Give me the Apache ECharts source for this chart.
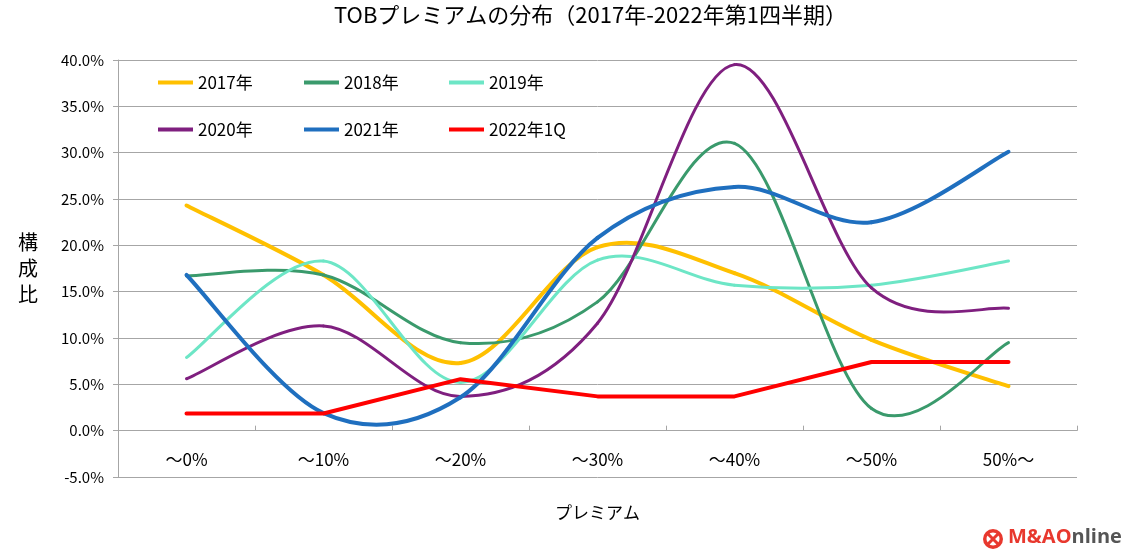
<!DOCTYPE html>
<html><head><meta charset="utf-8">
<script src="https://cdn.jsdelivr.net/npm/echarts@6/dist/echarts.min.js"></script>
<style>html,body{margin:0;padding:0;background:#fff}#c{width:1140px;height:554px}</style>
</head><body><div id="c"></div>
<script>
const categories = ['～0%', '～10%', '～20%', '～30%', '～40%', '～50%', '50%～'];
const seriesNames = ['2017年', '2018年', '2019年', '2020年', '2021年', '2022年1Q'];
const s2017 = [24.3, 16.8, 7.3, 19.8, 17.0, 9.8, 4.8];
const s2018 = [16.7, 16.8, 9.5, 13.9, 31.0, 2.4, 9.5];
const s2019 = [7.9, 18.3, 5.2, 18.4, 15.7, 15.7, 18.3];
const s2020 = [5.6, 11.3, 3.7, 11.6, 39.5, 15.4, 13.2];
const s2021 = [16.8, 1.9, 3.6, 20.8, 26.3, 22.5, 30.1];
const s2022 = [1.85, 1.85, 5.56, 3.70, 3.70, 7.41, 7.41];
const yMin = -5, yMax = 40, yStep = 5;

const FONT = '"Noto Sans CJK JP", "Noto Sans", sans-serif';
const colors = ['#FFC000', '#3A9A6C', '#6DE6C6', '#7F1F7F', '#1F6FBF', '#FF0000'];
const widths = [4, 3, 3, 3, 4, 4];
const smoothFlags = [true, true, true, true, true, false];
const datas = [s2017, s2018, s2019, s2020, s2021, s2022];
const TENSION = 1 / 6; // Catmull-Rom style smoothing (like the spreadsheet's smoothed line)

function smoothRender(arr, color, width) {
  return function (params, api) {
    const i = params.dataIndex;
    const n = arr.length;
    if (i >= n - 1) return null;
    const P = j => api.coord([Math.max(0, Math.min(n - 1, j)), arr[Math.max(0, Math.min(n - 1, j))]]);
    const p0 = P(i - 1), p1 = P(i), p2 = P(i + 1), p3 = P(i + 2);
    return {
      type: 'bezierCurve',
      shape: {
        x1: p1[0], y1: p1[1], x2: p2[0], y2: p2[1],
        cpx1: p1[0] + (p2[0] - p0[0]) * TENSION, cpy1: p1[1] + (p2[1] - p0[1]) * TENSION,
        cpx2: p2[0] - (p3[0] - p1[0]) * TENSION, cpy2: p2[1] - (p3[1] - p1[1]) * TENSION
      },
      style: {stroke: color, lineWidth: width, fill: null, lineCap: 'round'}
    };
  };
}

const chart = echarts.init(document.getElementById('c'), null, {renderer: 'canvas'});
const legendBase = {
  orient: 'vertical', top: 74, itemGap: 30, itemWidth: 35, itemHeight: 4, icon: 'rect', padding: 0,
  textStyle: {fontFamily: FONT, fontSize: 17, color: '#000', lineHeight: 16}
};
chart.setOption({
  animation: false,
  backgroundColor: '#fff',
  textStyle: {fontFamily: FONT},
  title: {
    text: 'TOBプレミアムの分布（2017年-2022年第1四半期）',
    left: 334, top: 4, padding: 0,
    textStyle: {fontFamily: FONT, fontSize: 22, fontWeight: 'normal', color: '#000'}
  },
  legend: [
    Object.assign({}, legendBase, {left: 158, data: [seriesNames[0], seriesNames[3]]}),
    Object.assign({}, legendBase, {left: 304, data: [seriesNames[1], seriesNames[4]]}),
    Object.assign({}, legendBase, {left: 449, data: [seriesNames[2], seriesNames[5]]})
  ],
  grid: {left: 118, right: 63, top: 60, bottom: 77, containLabel: false, outerBoundsMode: 'none'},
  xAxis: {
    type: 'category', data: categories, boundaryGap: true,
    name: 'プレミアム', nameLocation: 'middle', nameGap: 27,
    nameTextStyle: {fontFamily: FONT, fontSize: 17, color: '#000'},
    axisLine: {onZero: true, lineStyle: {color: '#a6a6a6', width: 1}},
    axisTick: {show: true, inside: true, length: 5, lineStyle: {color: '#a6a6a6'}},
    axisLabel: {margin: -26, fontFamily: FONT, fontSize: 17, color: '#000'},
    splitLine: {show: false}
  },
  yAxis: {
    type: 'value', min: yMin, max: yMax, interval: yStep,
    name: '構\n成\n比', nameLocation: 'middle', nameRotate: 0, nameGap: 80,
    nameTextStyle: {fontFamily: FONT, fontSize: 20, color: '#000', lineHeight: 26},
    axisLine: {show: true, lineStyle: {color: '#a6a6a6', width: 1}},
    axisTick: {show: true, inside: false, length: 5, lineStyle: {color: '#a6a6a6'}},
    axisLabel: {margin: 14, fontFamily: FONT, fontSize: 15, color: '#000',
      formatter: v => v.toFixed(1) + '%'},
    splitLine: {show: true, lineStyle: {color: '#a6a6a6', width: 1}}
  },
  series: seriesNames.map((n, i) => smoothFlags[i] ? {
    name: n, type: 'custom', data: datas[i].map((v, j) => [j, v]),
    encode: {x: 0, y: 1}, clip: false, z: 2 + i,
    renderItem: smoothRender(datas[i], colors[i], widths[i]),
    itemStyle: {color: colors[i]}
  } : {
    name: n, type: 'line', data: datas[i], smooth: false, z: 2 + i,
    symbol: 'none', showSymbol: false, color: colors[i],
    lineStyle: {color: colors[i], width: widths[i], cap: 'round', join: 'round'},
    itemStyle: {color: colors[i]}
  }),
  graphic: [
    {type: 'circle', shape: {cx: 993, cy: 539, r: 10}, style: {fill: '#E8382E'}},
    {type: 'circle', shape: {cx: 993, cy: 539, r: 6.5}, style: {fill: '#fff'}},
    {type: 'line', shape: {x1: 987, y1: 533, x2: 999, y2: 545}, style: {stroke: '#E8382E', lineWidth: 3}},
    {type: 'line', shape: {x1: 999, y1: 533, x2: 987, y2: 545}, style: {stroke: '#E8382E', lineWidth: 3}},
    {type: 'text', left: 1008, top: 527, style: {
      text: '{a|M&AO}{b|nline}',
      rich: {
        a: {fontFamily: '"Open Sans", "Noto Sans", sans-serif', fontSize: 20, fontWeight: 'bold', fill: '#E8382E'},
        b: {fontFamily: '"Open Sans", "Noto Sans", sans-serif', fontSize: 20, fontWeight: 'bold', fill: '#555'}
      }
    }}
  ]
});
</script>
</body></html>
